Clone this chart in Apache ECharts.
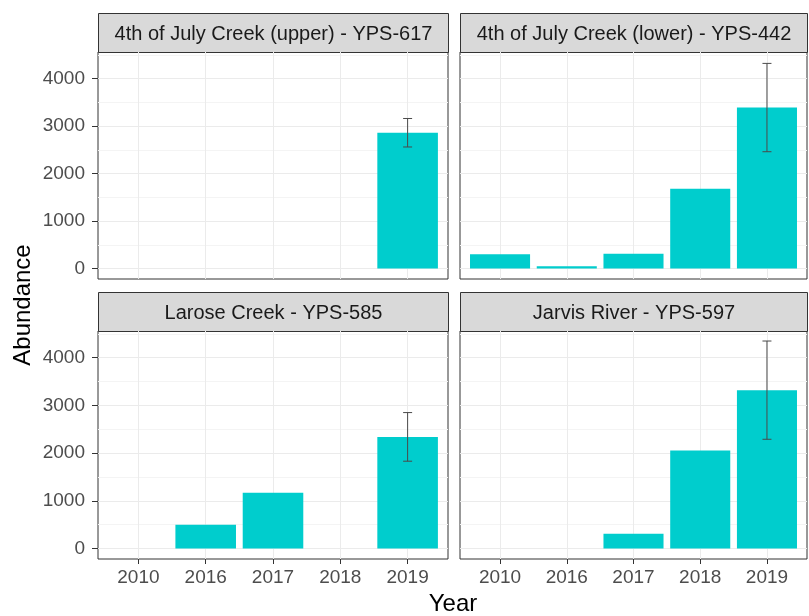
<!DOCTYPE html>
<html>
<head>
<meta charset="utf-8">
<title>Abundance by year</title>
<script src="https://cdn.jsdelivr.net/npm/echarts@6.0.0/dist/echarts.min.js"></script>
<style>
  html, body { margin: 0; padding: 0; background: #fff; }
  #chart { width: 809px; height: 616px; }
</style>
</head>
<body>
<div id="chart"></div>
<script>
// categories
var years = ['2010', '2016', '2017', '2018', '2019'];
var siteNames = [
  '4th of July Creek (upper) - YPS-617',
  '4th of July Creek (lower) - YPS-442',
  'Larose Creek - YPS-585',
  'Jarvis River - YPS-597'
];

// abundance per year (null = no sample)
var upper617 = [null, null, null, null, 2860];
var lower442 = [300, 50, 310, 1680, 3390];
var larose585 = [null, 500, 1170, null, 2340];
var jarvis597 = [null, null, 310, 2055, 3320];

// error half-widths (only 2019 has them)
var upper617Err = [null, null, null, null, 300];
var lower442Err = [null, null, null, null, 930];
var larose585Err = [null, null, null, null, 510];
var jarvis597Err = [null, null, null, null, 1030];

var yTicks = [0, 1000, 2000, 3000, 4000];
var yMinorTicks = [500, 1500, 2500, 3500, 4500];

var values = [upper617, lower442, larose585, jarvis597];
var errors = [upper617Err, lower442Err, larose585Err, jarvis597Err];

// panel layout (pixels)
var panels = [
  { left: 98,  top: 52,  width: 350, height: 227, stripTop: 13,  leftCol: true,  bottomRow: false },
  { left: 460, top: 52,  width: 347, height: 227, stripTop: 13,  leftCol: false, bottomRow: false },
  { left: 98,  top: 331, width: 350, height: 228, stripTop: 292, leftCol: true,  bottomRow: true },
  { left: 460, top: 331, width: 347, height: 228, stripTop: 292, leftCol: false, bottomRow: true }
];

var xIdx = [0, 1, 2, 3, 4];
var yMin = -220, yMax = 4560;
var font = 'Liberation Sans, Arial, sans-serif';

var grids = [], xAxes = [], yAxes = [], series = [], graphics = [];

panels.forEach(function (p, i) {
  grids.push({
    left: p.left, top: p.top, width: p.width, height: p.height,
    show: true, borderColor: '#333', borderWidth: 1, backgroundColor: '#fff'
  });
  xAxes.push({
    type: 'value', gridIndex: i, min: -0.6, max: 4.6, position: 'bottom',
    axisLine: { show: false, onZero: false },
    axisTick: { show: p.bottomRow, customValues: xIdx, length: 5, lineStyle: { color: '#333' } },
    axisLabel: {
      show: p.bottomRow, customValues: xIdx, margin: 9,
      color: '#4D4D4D', fontSize: 19, fontFamily: font,
      formatter: function (v) { return years[Math.round(v)]; }
    },
    splitLine: { show: true, lineStyle: { color: '#EBEBEB', width: 1 } }
  });
  yAxes.push({
    type: 'value', gridIndex: i, min: yMin, max: yMax, position: 'left',
    axisLine: { show: false, onZero: false },
    axisTick: { show: p.leftCol, customValues: yTicks, length: 6, lineStyle: { color: '#333' } },
    axisLabel: {
      show: p.leftCol, customValues: yTicks, margin: 13,
      color: '#4D4D4D', fontSize: 19, fontFamily: font,
      formatter: function (v) { return String(Math.round(v)); }
    },
    splitLine: { show: true, lineStyle: { color: '#EBEBEB', width: 1 } }
  });

  var barData = [], errData = [];
  values[i].forEach(function (v, k) {
    if (v !== null) barData.push([k, v]);
    var e = errors[i][k];
    if (e !== null && v !== null) errData.push([k, v - e, v + e]);
  });

  series.push({
    type: 'bar', xAxisIndex: i, yAxisIndex: i,
    data: barData,
    barWidth: 0.9 * p.width / 5.2,
    itemStyle: { color: '#00CDCD' },
    silent: true
  });
  series.push({
    type: 'custom', xAxisIndex: i, yAxisIndex: i,
    data: errData,
    silent: true,
    z: 5,
    renderItem: function (params, api) {
      var lo = api.coord([api.value(0), api.value(1)]);
      var hi = api.coord([api.value(0), api.value(2)]);
      var w = 4.5;
      var st = { stroke: '#4A4A4A', lineWidth: 1 };
      return {
        type: 'group',
        children: [
          { type: 'line', shape: { x1: lo[0], y1: lo[1], x2: hi[0], y2: hi[1] }, style: st },
          { type: 'line', shape: { x1: hi[0] - w, y1: hi[1], x2: hi[0] + w, y2: hi[1] }, style: st },
          { type: 'line', shape: { x1: lo[0] - w, y1: lo[1], x2: lo[0] + w, y2: lo[1] }, style: st }
        ]
      };
    }
  });

  // facet strip
  graphics.push({
    type: 'group', left: p.left, top: p.stripTop,
    children: [
      { type: 'rect', shape: { x: 0, y: 0, width: p.width, height: p.top - p.stripTop },
        style: { fill: '#D9D9D9', stroke: '#333', lineWidth: 1 } },
      { type: 'text', x: p.width / 2, y: (p.top - p.stripTop) / 2 + 1,
        style: { text: siteNames[i], fill: '#1A1A1A', font: '20px ' + font,
                 textAlign: 'center', textVerticalAlign: 'middle' } }
    ]
  });
});

// minor gridlines as hidden extra y axes
panels.forEach(function (p, i) {
  yAxes.push({
    type: 'value', gridIndex: i, min: yMin, max: yMax, position: 'left',
    axisLine: { show: false, onZero: false },
    axisTick: { show: false, customValues: yMinorTicks },
    axisLabel: { show: false, customValues: yMinorTicks },
    splitLine: { show: true, lineStyle: { color: '#F4F4F4', width: 1 } }
  });
});

// axis titles
graphics.push({
  type: 'text',
  rotation: Math.PI / 2,
  x: 23, y: 305,
  style: { text: 'Abundance', fill: '#000', font: '24px ' + font, textAlign: 'center', textVerticalAlign: 'middle' }
});
graphics.push({
  type: 'text', x: 453, y: 604,
  style: { text: 'Year', fill: '#000', font: '24px ' + font, textAlign: 'center', textVerticalAlign: 'middle' }
});

var chart = echarts.init(document.getElementById('chart'));
chart.setOption({
  animation: false,
  backgroundColor: '#fff',
  grid: grids,
  xAxis: xAxes,
  yAxis: yAxes,
  series: series,
  graphic: graphics
});
</script>
</body>
</html>
